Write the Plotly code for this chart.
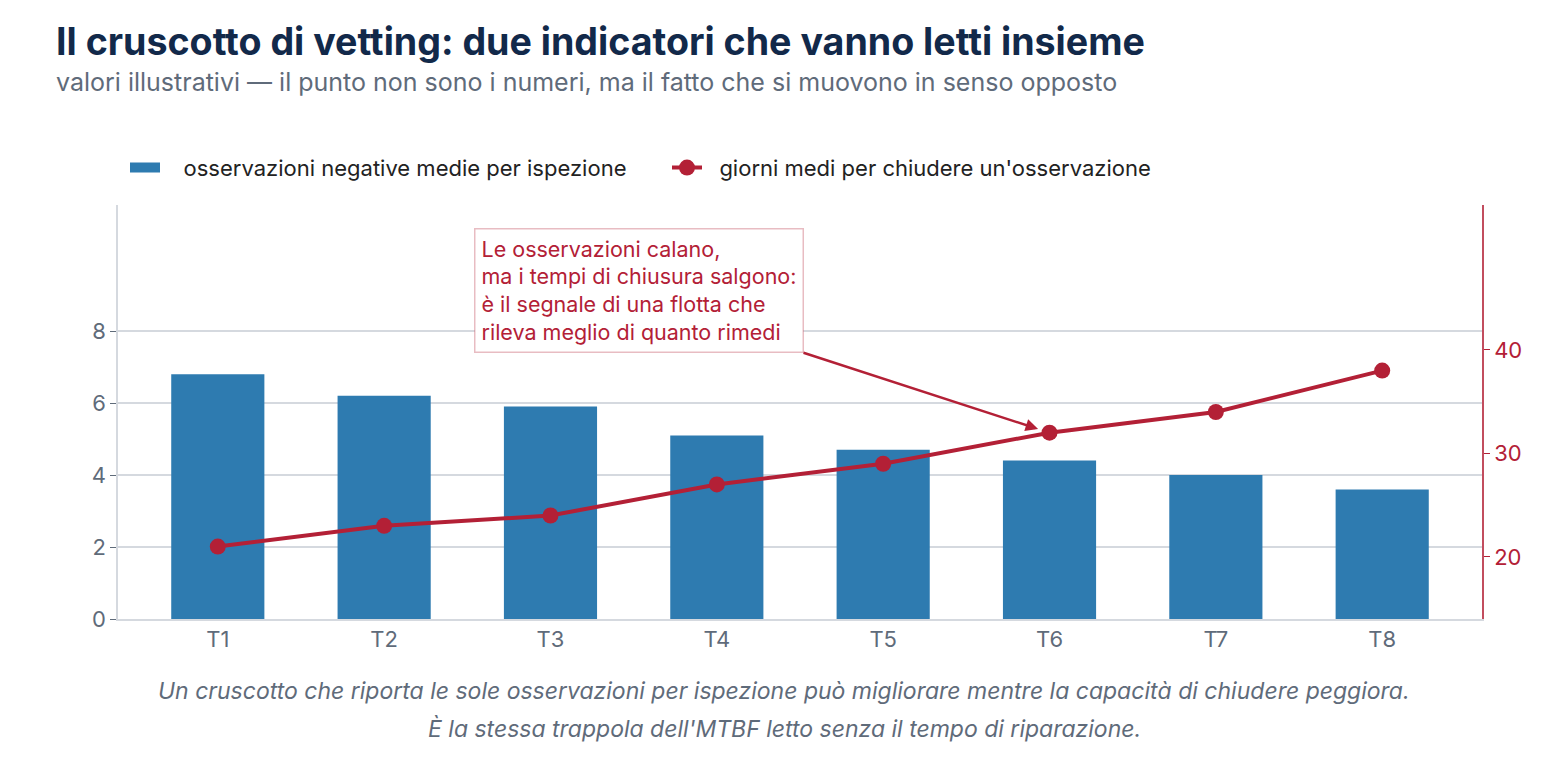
import plotly.graph_objects as go

periodi = ["T1", "T2", "T3", "T4", "T5", "T6", "T7", "T8"]
osservazioni_medie = [6.8, 6.2, 5.9, 5.1, 4.7, 4.4, 4.0, 3.6]
giorni_chiusura = [21, 23, 24, 27, 29, 32, 34, 38]

BLU = "#2e7bb0"
ROSSO = "#b32036"
GRIGIO = "#5f6b7a"
FONT = "Inter, Roboto, sans-serif"
NBSP = "\u00a0"

fig = go.Figure()

fig.add_trace(go.Bar(
    x=periodi, y=osservazioni_medie,
    name="osservazioni negative medie per ispezione",
    marker=dict(color=BLU, line=dict(width=0)),
    width=0.56,
    yaxis="y",
    showlegend=False,
))

# voce di legenda a rettangolo largo per le barre
fig.add_trace(go.Scatter(
    x=[None], y=[None], mode="lines",
    name=NBSP * 3 + "osservazioni negative medie per ispezione",
    line=dict(color=BLU, width=14),
    hoverinfo="skip",
))

fig.add_trace(go.Scatter(
    x=periodi, y=giorni_chiusura,
    mode="lines+markers",
    name=NBSP * 2 + "giorni medi per chiudere un'osservazione",
    line=dict(color=ROSSO, width=4),
    marker=dict(color=ROSSO, size=16),
    yaxis="y2",
))

fig.add_annotation(
    x="T6", y=giorni_chiusura[5], xref="x", yref="y2",
    ax=-246, ay=-80,
    xanchor="right", yanchor="bottom",
    text=("Le osservazioni calano,<br>ma i tempi di chiusura salgono:<br>"
          "è il segnale di una flotta che<br>rileva meglio di quanto rimedi"),
    align="left",
    showarrow=True, arrowhead=2, arrowsize=1, arrowwidth=2.5,
    arrowcolor=ROSSO, standoff=12,
    font=dict(family=FONT, size=21.5, color=ROSSO),
    bgcolor="white", bordercolor="rgba(179,32,54,0.3)",
    borderwidth=1.5, borderpad=6,
)

# titolo e sottotitolo
fig.add_annotation(
    x=-64 / 1364, y=1, xref="paper", yref="paper", yshift=164,
    xanchor="left", yanchor="middle", showarrow=False,
    text="<b>Il cruscotto di vetting: due indicatori che vanno letti insieme</b>",
    font=dict(family=FONT, size=37.6, color="#12294a"),
)
fig.add_annotation(
    x=-64 / 1364, y=1, xref="paper", yref="paper", yshift=123,
    xanchor="left", yanchor="middle", showarrow=False,
    text="valori illustrativi — il punto non sono i numeri, ma il fatto che si muovono in senso opposto",
    font=dict(family=FONT, size=25, color=GRIGIO),
)

# nota in calce, due righe separate per controllare l'interlinea
note = [
    "Un cruscotto che riporta le sole osservazioni per ispezione può migliorare "
    "mentre la capacità di chiudere peggiora.",
    "È la stessa trappola dell'MTBF letto senza il tempo di riparazione.",
]
for i, riga in enumerate(note):
    fig.add_annotation(
        x=(784 - 118) / 1364, y=0, xref="paper", yref="paper", yshift=-72 - 38 * i,
        xanchor="center", yanchor="middle", showarrow=False,
        text=f"<i>{riga}</i>",
        font=dict(family=FONT, size=23, color=GRIGIO),
    )

fig.update_layout(
    width=1568, height=760,
    margin=dict(l=118, r=86, t=205, b=141),
    paper_bgcolor="white", plot_bgcolor="white",
    font=dict(family=FONT, size=22, color=GRIGIO),
    legend=dict(
        orientation="h", x=7 / 1364, xanchor="left", y=1.09, yanchor="middle",
        font=dict(family=FONT, size=22, color="#222222"),
        entrywidth=497, entrywidthmode="pixels",
    ),
    xaxis=dict(
        range=[-0.6, 7.6],
        showline=True, linecolor="#d5d9df", linewidth=1.5,
        ticks="", tickfont=dict(size=22, color=GRIGIO),
        showgrid=False,
    ),
    yaxis=dict(
        range=[0, 11.5], tickvals=[0, 2, 4, 6, 8],
        showgrid=True, gridcolor="#d5d9df", gridwidth=1.5,
        showline=True, linecolor="#d5d9df", linewidth=1.5,
        ticks="outside", ticklen=6, tickcolor="#5f6b7a",
        tickfont=dict(size=22, color=GRIGIO),
        zeroline=False,
    ),
    yaxis2=dict(
        overlaying="y", side="right",
        range=[14, 54], tickvals=[20, 30, 40],
        showgrid=False, zeroline=False,
        showline=True, linecolor="rgba(179,32,54,0.8)", linewidth=1.5,
        ticks="outside", ticklen=6, tickcolor=ROSSO,
        tickfont=dict(size=22, color=ROSSO),
    ),
)

fig.write_html(
    "out.html",
    config={"displayModeBar": False},
    post_script="document.body.style.margin='0';",
)
